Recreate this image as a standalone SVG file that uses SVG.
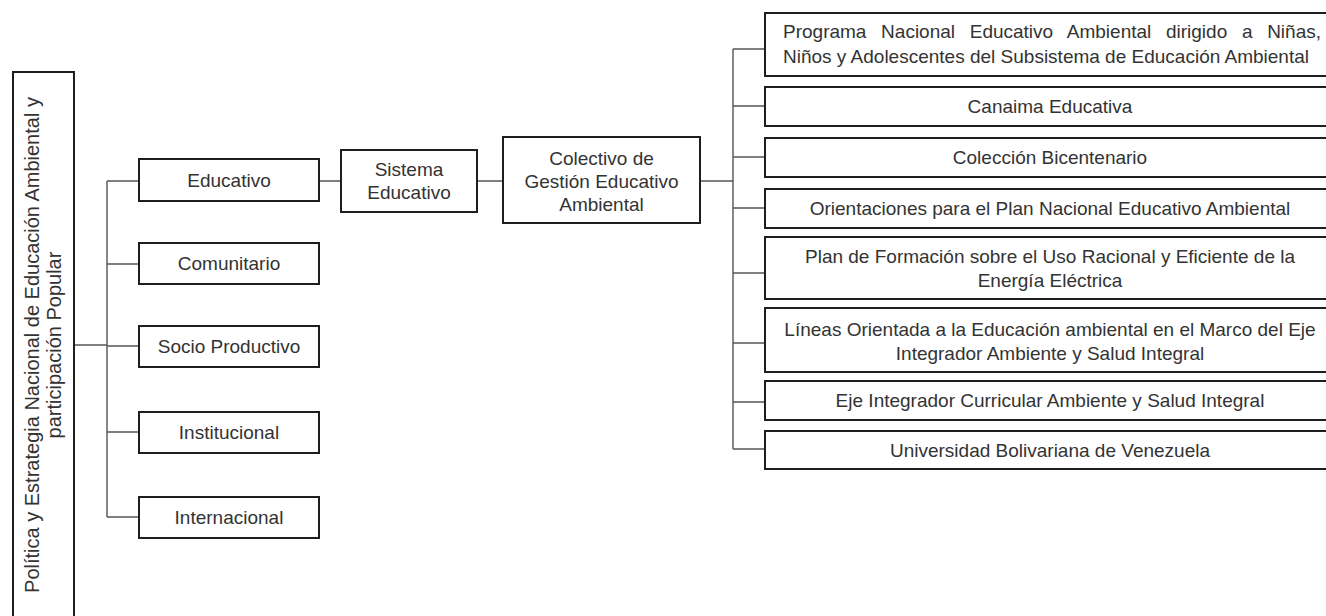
<svg xmlns="http://www.w3.org/2000/svg" width="1326" height="616" viewBox="0 0 1326 616">
<style>
.box{fill:#fff;stroke:#1e1e1e;stroke-width:2}
.t{font-family:"Liberation Sans",Arial,sans-serif;font-size:19px;fill:#333;text-anchor:middle}
.lt{font-family:"Liberation Sans",Arial,sans-serif;font-size:20px;fill:#333;text-anchor:middle}
.c{fill:none;stroke:#555;stroke-width:1.4}
</style>
<rect width="1326" height="616" fill="#fff"/>
<g id="connectors">
<path class="c" d="M74 345H107M107 181V517M107 181H139M107 264H139M107 346H139M107 432H139M107 517H139"/>
<path class="c" d="M319 181H341M477 181H503M700 181H733"/>
<path class="c" d="M733 49V449M733 49H765M733 106H765M733 157H765M733 208H765M733 273H765M733 343H765M733 402H765M733 449H765"/>
</g>
<g id="n-politica">
<rect class="box" x="13" y="72" width="61" height="550"/>
<text class="lt" transform="translate(39,345) rotate(-90)"><tspan x="0" y="0">Política y Estrategia Nacional de Educación Ambiental y</tspan><tspan x="0" y="22">participación Popular</tspan></text>
</g>
<g id="n-educativo"><rect class="box" x="139" y="159" width="180" height="42"/><text class="t" x="229" y="187">Educativo</text></g>
<g id="n-comunitario"><rect class="box" x="139" y="243" width="180" height="41"/><text class="t" x="229" y="270">Comunitario</text></g>
<g id="n-socio"><rect class="box" x="139" y="326" width="180" height="41"/><text class="t" x="229" y="353">Socio Productivo</text></g>
<g id="n-institucional"><rect class="box" x="139" y="412" width="180" height="41"/><text class="t" x="229" y="439">Institucional</text></g>
<g id="n-internacional"><rect class="box" x="139" y="497" width="180" height="41"/><text class="t" x="229" y="524">Internacional</text></g>
<g id="n-sistema"><rect class="box" x="341" y="150" width="136" height="62"/><text class="t" x="409" y="176">Sistema</text><text class="t" x="409" y="199">Educativo</text></g>
<g id="n-colectivo"><rect class="box" x="503" y="137" width="197" height="86"/><text class="t" x="601.5" y="164.5">Colectivo de</text><text class="t" x="601.5" y="187.5">Gestión Educativo</text><text class="t" x="601.5" y="210.5">Ambiental</text></g>
<g id="n-programa"><rect class="box" x="765" y="13" width="570" height="63"/><text class="t" x="783" y="38" style="text-anchor:start;word-spacing:9.4px">Programa Nacional Educativo Ambiental dirigido a Niñas,</text><text class="t" x="783" y="63" style="text-anchor:start">Niños y Adolescentes del Subsistema de Educación Ambiental</text></g>
<g id="n-canaima"><rect class="box" x="765" y="87" width="570" height="39"/><text class="t" x="1050" y="113">Canaima Educativa</text></g>
<g id="n-coleccion"><rect class="box" x="765" y="138" width="570" height="39"/><text class="t" x="1050" y="164">Colección Bicentenario</text></g>
<g id="n-orientaciones"><rect class="box" x="765" y="189" width="570" height="39"/><text class="t" x="1050" y="215">Orientaciones para el Plan Nacional Educativo Ambiental</text></g>
<g id="n-plan"><rect class="box" x="765" y="237" width="570" height="62"/><text class="t" x="1050" y="263">Plan de Formación sobre el Uso Racional y Eficiente de la</text><text class="t" x="1050" y="287">Energía Eléctrica</text></g>
<g id="n-lineas"><rect class="box" x="765" y="308" width="570" height="64"/><text class="t" x="1050" y="336">Líneas Orientada a la Educación ambiental en el Marco del Eje</text><text class="t" x="1050" y="360">Integrador Ambiente y Salud Integral</text></g>
<g id="n-eje"><rect class="box" x="765" y="381" width="570" height="39"/><text class="t" x="1050" y="407">Eje Integrador Curricular Ambiente y Salud Integral</text></g>
<g id="n-universidad"><rect class="box" x="765" y="431" width="570" height="38"/><text class="t" x="1050" y="457">Universidad Bolivariana de Venezuela</text></g>
</svg>
